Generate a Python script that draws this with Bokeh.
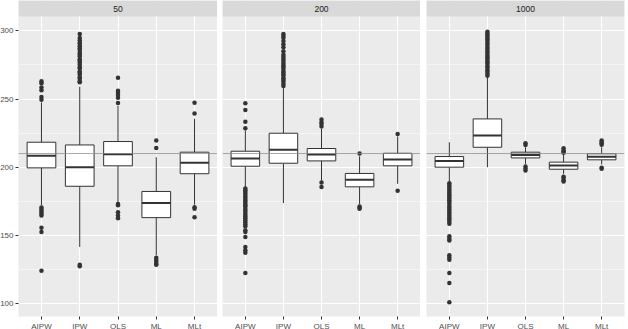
from bokeh.plotting import figure
from bokeh.layouts import row
from bokeh.models import Range1d, FixedTicker, Span
from bokeh.embed import file_html
from bokeh.resources import INLINE
from bokeh.core.properties import value

# Simulated estimates of the mean outcome, by estimator and sample size
estimators = ["AIPW", "IPW", "OLS", "ML", "MLt"]
sample_sizes = ["50", "200", "1000"]
true_value = 210

# n = 50: whisker ends, quartiles, medians, outliers (one list per estimator)
lower_50 = [172.0, 141.5, 174.5, 135.5, 172.5]
q1_50 = [199.5, 186.0, 201.0, 163.0, 195.2]
median_50 = [208.3, 200.0, 209.5, 173.7, 203.2]
q3_50 = [218.3, 216.3, 218.8, 182.2, 211.0]
upper_50 = [247.5, 259.0, 245.0, 207.3, 235.5]
outliers_50 = [
    [249.5, 251.5, 256.5, 258.5, 261.5, 263.0,
     170.5, 169.0, 167.5, 166.0, 164.5, 155.5, 152.5, 124.0],
    [262.3, 263.1, 264.8, 266.0, 267.9, 269.4, 270.2, 272.6, 273.5, 275.1,
     276.8, 278.3, 279.0, 281.2, 282.7, 284.0, 285.9, 287.1, 288.6, 290.4,
     291.2, 293.0, 294.7, 297.6, 128.5, 127.3],
    [247.0, 251.0, 253.0, 254.5, 256.0, 265.5,
     173.0, 172.0, 167.0, 164.5, 162.5],
    [214.0, 219.5, 133.5, 132.0, 130.5, 129.0, 128.5],
    [239.3, 247.3, 170.7, 169.5, 163.2],
]

# n = 200
lower_200 = [185.5, 173.7, 190.2, 172.7, 187.8]
q1_200 = [200.7, 202.9, 204.6, 185.6, 201.0]
median_200 = [206.3, 212.7, 209.3, 190.7, 205.6]
q3_200 = [211.7, 224.9, 213.7, 195.4, 210.2]
upper_200 = [227.0, 258.0, 228.0, 208.0, 222.5]
outliers_200 = [
    [228.5, 233.4, 242.0, 246.8,
     184.3, 183.1, 181.8, 180.6, 179.0, 177.7, 176.2, 175.1, 173.4, 172.0,
     170.9, 169.3, 168.1, 166.6, 165.2, 163.8, 162.5, 161.0, 159.7, 158.2,
     156.6, 153.7, 152.4, 148.8, 141.5, 139.0, 137.3, 122.4],
    [259.6, 261.0, 262.7, 263.9, 265.2, 266.8, 268.1, 269.5, 270.6, 272.3,
     273.8, 275.0, 276.4, 278.1, 279.5, 281.0, 282.4, 285.0, 287.9, 290.1,
     292.6, 295.0, 296.4, 297.6],
    [229.8, 231.7, 233.0, 234.9, 188.8, 185.4],
    [210.0, 171.2, 170.3, 169.5],
    [224.4, 182.7],
]

# n = 1000
lower_1000 = [189.0, 200.0, 202.4, 195.1, 202.0]
q1_1000 = [200.0, 214.6, 206.8, 198.5, 205.4]
median_1000 = [204.6, 223.2, 209.0, 201.2, 207.6]
q3_1000 = [207.8, 235.4, 211.0, 203.7, 209.8]
upper_1000 = [218.3, 265.9, 214.6, 209.3, 214.6]
outliers_1000 = [
    [188.3, 187.0, 185.6, 184.1, 182.9, 181.4, 180.0, 178.7, 177.2, 175.8,
     174.5, 173.1, 171.6, 170.2, 168.9, 167.3, 166.0, 164.6, 163.1, 161.8,
     160.2, 158.5, 149.3, 147.6, 146.3, 135.4, 133.7, 132.2, 122.4, 115.1,
     101.0],
    [267.0, 268.4, 269.8, 271.1, 272.7, 274.0, 275.6, 276.9, 278.3, 279.8,
     281.2, 282.5, 284.1, 285.4, 286.9, 288.2, 289.7, 291.0, 292.6, 293.9,
     295.3, 296.8, 298.0, 299.3],
    [216.3, 217.6, 200.5, 199.0, 197.6],
    [210.5, 211.5, 212.2, 213.9, 193.0, 192.0, 190.5, 189.5],
    [216.5, 217.6, 218.5, 219.5, 199.5, 198.8],
]

panels = [
    (lower_50, q1_50, median_50, q3_50, upper_50, outliers_50),
    (lower_200, q1_200, median_200, q3_200, upper_200, outliers_200),
    (lower_1000, q1_1000, median_1000, q3_1000, upper_1000, outliers_1000),
]

# Layout (pixels)
FRAME_H = 300          # data panel height
STRIP_H = 16           # facet strip height
FRAME_W = [199, 198, 198]
LEFT = [17, 5, 6]
RIGHT = [0, 0, 5]
BOTTOM = 13

Y0, Y1 = 90.5, 310.5
y_strip_top = Y1 + STRIP_H * (Y1 - Y0) / FRAME_H
X0, X1 = 0.4, 5.6
BOX_HALF = 0.375

INK = "#333333"
LABEL = "#4D4D4D"
FONT = "Liberation Sans"
xs = list(range(1, len(estimators) + 1))

figs = []
for k, size in enumerate(sample_sizes):
    lo, q1, med, q3, hi, outs = panels[k]
    p = figure(
        frame_width=FRAME_W[k], frame_height=FRAME_H + STRIP_H,
        x_range=Range1d(X0, X1), y_range=Range1d(Y0, y_strip_top),
        output_backend="svg", toolbar_location=None,
        y_axis_location="left" if k == 0 else None,
        min_border_left=LEFT[k], min_border_right=RIGHT[k],
        min_border_top=0, min_border_bottom=BOTTOM,
    )
    p.background_fill_color = "#EBEBEB"
    p.border_fill_color = "white"
    p.outline_line_color = None

    # axes
    p.xaxis.ticker = FixedTicker(ticks=xs)
    p.xaxis.major_label_overrides = {x: e for x, e in zip(xs, estimators)}
    p.xaxis.minor_tick_line_color = None
    p.xaxis.axis_line_color = None
    p.xaxis.major_tick_line_color = INK
    p.xaxis.major_tick_out = 3
    p.xaxis.major_tick_in = 0
    p.xaxis.major_label_standoff = 2
    p.xaxis.major_label_text_font = FONT
    p.xaxis.major_label_text_font_size = "8px"
    p.xaxis.major_label_text_color = LABEL
    if k == 0:
        p.yaxis.ticker = FixedTicker(ticks=[100, 150, 200, 250, 300],
                                     minor_ticks=[125, 175, 225, 275])
        p.yaxis.minor_tick_line_color = None
        p.yaxis.axis_line_color = None
        p.yaxis.major_tick_line_color = INK
        p.yaxis.major_tick_out = 3
        p.yaxis.major_tick_in = 0
        p.yaxis.major_label_standoff = 1
        p.yaxis.major_label_text_font = FONT
        p.yaxis.major_label_text_font_size = "8px"
        p.yaxis.major_label_text_color = LABEL

    # grid
    p.xgrid.ticker = FixedTicker(ticks=xs)
    p.ygrid.ticker = FixedTicker(ticks=[100, 150, 200, 250, 300],
                                 minor_ticks=[125, 175, 225, 275])
    for g in (p.xgrid, p.ygrid):
        g.grid_line_color = "white"
        g.grid_line_width = 1.1
    p.ygrid.minor_grid_line_color = "white"
    p.ygrid.minor_grid_line_width = 0.5

    # whiskers
    p.segment(x0=xs, y0=q3, x1=xs, y1=hi, line_color=INK, line_width=1)
    p.segment(x0=xs, y0=q1, x1=xs, y1=lo, line_color=INK, line_width=1)
    # boxes
    p.quad(left=[x - BOX_HALF for x in xs], right=[x + BOX_HALF for x in xs],
           bottom=q1, top=q3, fill_color="white", line_color=INK, line_width=1)
    # medians
    p.segment(x0=[x - BOX_HALF for x in xs], y0=med,
              x1=[x + BOX_HALF for x in xs], y1=med,
              line_color=INK, line_width=2)
    # outliers
    ox, oy = [], []
    for x, vals in zip(xs, outs):
        ox += [x] * len(vals)
        oy += vals
    p.scatter(ox, oy, size=4.5, fill_color=INK, line_color=INK, line_width=0)

    # reference line at the true value
    p.add_layout(Span(location=true_value, dimension="width",
                      line_color="#8C8C8C", line_alpha=0.75, line_width=1))

    # facet strip
    p.quad(left=[X0], right=[X1], bottom=[Y1], top=[y_strip_top],
           fill_color="#D9D9D9", line_color=None)
    p.text(x=[(X0 + X1) / 2], y=[(Y1 + y_strip_top) / 2], text=[size],
           text_align="center", text_baseline="middle",
           text_font=value(FONT), text_font_size="8.5px", text_color="#1A1A1A")
    figs.append(p)

# the first panel's tick labels run slightly past the left edge of the page
layout = row(*figs, margin=(0, 0, 0, -3))
open("out.html", "w").write(file_html(layout, INLINE))
